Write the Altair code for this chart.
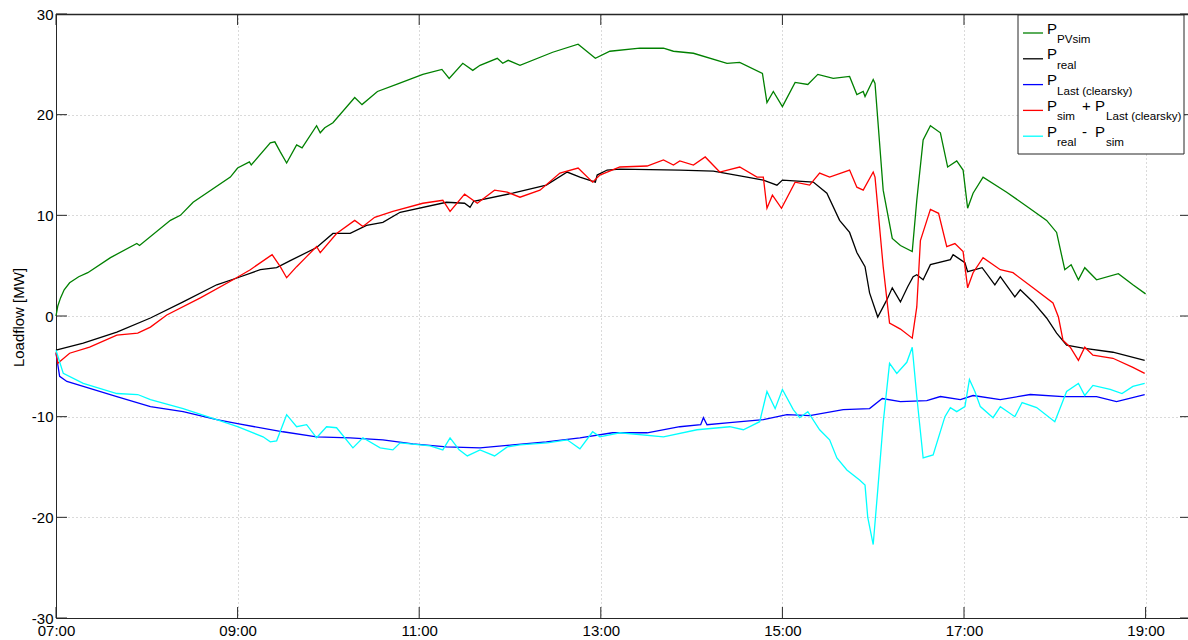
import altair as alt
import pandas as pd

# ---------------- data (hours of day, MW) ----------------
TICK_HOURS = [7, 9, 11, 13, 15, 17, 19]
Y_TICKS = [-30, -20, -10, 0, 10, 20, 30]

green_t = [7.00, 7.02, 7.05, 7.09, 7.15, 7.25, 7.35, 7.60, 7.89, 7.92, 8.26, 8.37, 8.51, 8.92, 9.00, 9.13, 9.15,
           9.36, 9.41, 9.47, 9.54, 9.65, 9.71, 9.87, 9.91, 9.96, 10.05, 10.29, 10.37, 10.54,
           10.75, 11.04, 11.25, 11.33, 11.48, 11.59, 11.67, 11.86, 11.92, 11.98, 12.11, 12.47,
           12.75, 12.94, 13.10, 13.43, 13.69, 13.80, 14.02, 14.39, 14.53, 14.78, 14.83, 14.90,
           15.00, 15.14, 15.28, 15.39, 15.56, 15.74, 15.82, 15.89, 15.91, 16.00, 16.02, 16.11,
           16.21, 16.30, 16.43, 16.48, 16.55, 16.63, 16.74, 16.82, 16.92, 16.99, 17.04, 17.10,
           17.21, 17.47, 17.69, 17.91, 18.02, 18.11, 18.18, 18.26, 18.33, 18.46, 18.70, 18.86,
           19.00]
green_v = [0.0, 1.0, 1.8, 2.6, 3.3, 3.9, 4.3, 5.8, 7.2, 7.0, 9.5, 10.0, 11.3, 13.8, 14.7, 15.3, 15.0,
           17.2, 17.3, 16.3, 15.2, 17.0, 16.7, 18.9, 18.2, 18.7, 19.2, 21.7, 21.0, 22.3,
           23.0, 24.0, 24.5, 23.6, 25.1, 24.4, 24.9, 25.6, 25.1, 25.4, 24.9, 26.2,
           27.0, 25.6, 26.3, 26.6, 26.6, 26.3, 26.1, 25.1, 25.2, 24.1, 21.2, 22.3,
           20.8, 23.2, 23.0, 24.0, 23.6, 23.8, 22.0, 22.3, 21.8, 23.5, 23.1, 12.5,
           7.7, 7.0, 6.4, 11.5, 17.5, 18.9, 18.2, 14.8, 15.4, 14.5, 10.7, 12.2,
           13.8, 12.3, 10.9, 9.5, 8.3, 4.6, 5.1, 3.6, 4.8, 3.6, 4.2, 3.1,
           2.2]

black_t = [7.00, 7.30, 7.67, 8.04, 8.40, 8.77, 9.00, 9.25, 9.43, 9.58, 9.87, 10.05, 10.24,
           10.42, 10.60, 10.79, 11.30, 11.50, 11.56, 11.60, 12.03, 12.40, 12.63, 12.77, 12.94,
           12.96, 13.07, 13.21, 13.87, 14.24, 14.61, 14.79, 14.94, 15.00, 15.34, 15.49, 15.63,
           15.74, 15.82, 15.91, 15.96, 16.05, 16.15, 16.21, 16.30, 16.38, 16.44, 16.48, 16.55,
           16.63, 16.85, 16.88, 17.01, 17.04, 17.20, 17.34, 17.40, 17.56, 17.62, 17.76, 17.91,
           18.02, 18.13, 18.31, 18.64, 18.99]
black_v = [-3.4, -2.7, -1.6, -0.2, 1.4, 3.1, 3.8, 4.6, 4.8, 5.5, 6.8, 8.2, 8.2,
           9.0, 9.3, 10.3, 11.3, 11.2, 10.8, 11.4, 12.2, 13.0, 14.3, 13.8, 13.3,
           14.0, 14.5, 14.6, 14.5, 14.4, 13.8, 13.5, 13.0, 13.5, 13.3, 12.2, 9.5,
           8.3, 6.3, 4.9, 2.3, -0.1, 1.6, 2.8, 1.4, 2.9, 3.9, 4.1, 3.6,
           5.1, 5.6, 6.1, 5.3, 4.4, 4.8, 3.1, 3.9, 1.9, 2.6, 1.4, -0.2,
           -1.7, -2.9, -3.2, -3.6, -4.4]

blue_t = [7.00, 7.04, 7.12, 7.30, 7.67, 8.04, 8.40, 8.77, 9.00, 9.50, 9.87, 10.24, 10.60,
          10.93, 11.30, 11.67, 12.03, 12.40, 12.77, 13.13, 13.51, 13.87, 14.10, 14.13, 14.17,
          14.42, 14.79, 15.05, 15.30, 15.67, 15.96, 16.10, 16.30, 16.59, 16.74, 16.96, 17.10,
          17.40, 17.73, 18.09, 18.46, 18.68, 18.99]
blue_v = [-3.7, -6.0, -6.5, -7.0, -8.0, -9.0, -9.5, -10.3, -10.7, -11.5, -12.0, -12.1, -12.3,
          -12.7, -13.0, -13.1, -12.8, -12.5, -12.1, -11.6, -11.6, -11.0, -10.8, -10.1, -10.8,
          -10.6, -10.3, -9.8, -9.9, -9.3, -9.2, -8.2, -8.5, -8.4, -8.0, -8.3, -7.9,
          -8.3, -7.8, -8.0, -8.0, -8.5, -7.8]

red_t = [7.00, 7.02, 7.15, 7.37, 7.67, 7.90, 8.04, 8.22, 8.59, 8.95, 9.14, 9.38, 9.47, 9.54,
         9.65, 9.76, 9.87, 9.91, 10.09, 10.29, 10.38, 10.51, 10.71, 11.04, 11.26, 11.34, 11.50,
         11.64, 11.83, 11.97, 12.11, 12.33, 12.55, 12.75, 12.91, 12.99, 13.21, 13.51, 13.69,
         13.80, 13.87, 14.02, 14.15, 14.31, 14.53, 14.72, 14.79, 14.83, 14.89, 14.99, 15.14,
         15.30, 15.41, 15.52, 15.74, 15.82, 15.89, 16.00, 16.02, 16.11, 16.18, 16.30, 16.43,
         16.48, 16.52, 16.63, 16.72, 16.81, 16.90, 16.99, 17.04, 17.10, 17.21, 17.40, 17.54,
         17.76, 17.98, 18.04, 18.09, 18.17, 18.26, 18.33, 18.42, 18.64, 18.86, 18.99]
red_v = [-3.6, -4.7, -3.7, -3.1, -1.9, -1.7, -1.1, 0.1, 1.8, 3.6, 4.6, 6.1, 4.9, 3.8,
         4.9, 5.9, 6.9, 6.3, 8.2, 9.5, 8.9, 9.8, 10.4, 11.2, 11.5, 10.4, 12.1,
         11.2, 12.5, 12.3, 11.8, 12.5, 14.2, 14.7, 13.3, 14.0, 14.8, 14.9, 15.5,
         15.0, 15.4, 15.0, 15.8, 14.3, 14.8, 13.8, 13.8, 10.7, 12.0, 10.7, 13.3,
         13.0, 14.2, 13.8, 14.5, 12.8, 12.5, 14.3, 13.8, 4.9, -0.7, -1.3, -2.2,
         0.9, 7.5, 10.6, 10.2, 6.9, 7.2, 6.4, 2.8, 4.3, 5.8, 4.6, 4.3,
         2.8, 1.3, -0.1, -2.4, -3.1, -4.4, -3.1, -3.9, -4.2, -5.1, -5.7]

cyan_t = [7.00, 7.08, 7.30, 7.67, 7.90, 8.04, 8.40, 8.77, 9.00, 9.28, 9.36, 9.43, 9.54, 9.65,
          9.76, 9.87, 9.98, 10.09, 10.27, 10.38, 10.57, 10.71, 10.79, 11.12, 11.26, 11.34,
          11.44, 11.53, 11.67, 11.83, 11.97, 12.11, 12.41, 12.63, 12.77, 12.91, 12.99, 13.21,
          13.69, 14.06, 14.42, 14.57, 14.75, 14.83, 14.92, 15.00, 15.12, 15.19, 15.28, 15.41,
          15.52, 15.60, 15.71, 15.85, 15.91, 15.94, 16.00, 16.05, 16.11, 16.18, 16.26, 16.37,
          16.43, 16.48, 16.55, 16.66, 16.79, 16.85, 16.92, 17.01, 17.06, 17.12, 17.18, 17.32,
          17.40, 17.56, 17.64, 17.80, 18.00, 18.13, 18.26, 18.33, 18.42, 18.61, 18.74, 18.86,
          18.99]
cyan_v = [-3.4, -5.7, -6.7, -7.7, -7.8, -8.3, -9.2, -10.3, -11.0, -12.0, -12.5, -12.4, -9.8, -11.0,
          -10.8, -12.1, -11.0, -11.1, -13.1, -12.1, -13.1, -13.3, -12.6, -12.9, -13.3, -12.1,
          -13.3, -13.9, -13.3, -13.9, -13.0, -12.8, -12.6, -12.3, -13.2, -11.5, -12.0, -11.6,
          -12.0, -11.3, -11.0, -11.3, -10.5, -7.5, -9.2, -7.3, -9.3, -10.1, -9.5, -11.3,
          -12.3, -14.1, -15.3, -16.3, -16.8, -20.0, -22.7, -17.3, -10.6, -4.7, -5.7, -4.6,
          -3.1, -8.0, -14.1, -13.8, -10.0, -9.1, -9.5, -9.0, -6.3, -7.5, -9.0, -10.1,
          -9.0, -10.0, -8.6, -9.1, -10.5, -7.5, -6.7, -7.9, -6.9, -7.3, -7.7, -7.0,
          -6.7]

SERIES = [
    (green_t, green_v, "#008000"),
    (black_t, black_v, "#000000"),
    (blue_t, blue_v, "#0000ff"),
    (red_t, red_v, "#ff0000"),
    (cyan_t, cyan_v, "#00ffff"),
]

# legend pieces: (row, x, text, is_subscript)
LEGEND_PIECES = [
    (0, 1047, "P", False), (0, 1057, "PVsim", True),
    (1, 1047, "P", False), (1, 1057, "real", True),
    (2, 1047, "P", False), (2, 1057, "Last (clearsky)", True),
    (3, 1047, "P", False), (3, 1057, "sim", True), (3, 1082, "+", False),
    (3, 1095, "P", False), (3, 1106, "Last (clearsky)", True),
    (4, 1047, "P", False), (4, 1057, "real", True), (4, 1082, "-", False),
    (4, 1095, "P", False), (4, 1106, "sim", True),
]

# ---------------- layout ----------------
LEFT, TOP = 56, 14
W, H = 1188 - LEFT, 604
PX_PER_HOUR = 90.8
FONT = "Liberation Sans"
AXIS_COLOR = "#262626"

xscale = alt.Scale(domain=[7, 7 + W / PX_PER_HOUR], nice=False, zero=False)
yscale = alt.Scale(domain=[-30, 30], nice=False, zero=False)

x_axis = alt.Axis(
    values=TICK_HOURS,
    labelExpr="(datum.value < 10 ? '0' : '') + datum.value + ':00'",
    grid=True, gridDash=[1, 3], gridColor="#b4b4b4", gridWidth=1,
    tickSize=0, domainColor=AXIS_COLOR, domainWidth=1,
    labelFont=FONT, labelFontSize=15, labelColor="#000000", labelPadding=5,
    labelFlush=False, labelOverlap=False, labelBound=False, title=None,
)
y_axis = alt.Axis(
    values=Y_TICKS,
    labelExpr="'' + datum.value",
    grid=True, gridDash=[1, 3], gridColor="#b4b4b4", gridWidth=1,
    tickSize=0, domainColor=AXIS_COLOR, domainWidth=1,
    labelFont=FONT, labelFontSize=15, labelColor="#000000", labelPadding=3,
    labelFlush=False, labelOverlap=False, labelBound=False,
    title="Loadflow [MW]", titleFont=FONT, titleFontSize=15, titleFontWeight="normal",
    titleColor="#000000", titleX=-30, titleY=H / 2 + 1, titleAngle=270,
    titleBaseline="bottom", titleAlign="center",
)

X = lambda: alt.X("t:Q", scale=xscale, axis=x_axis)
Y = lambda: alt.Y("v:Q", scale=yscale, axis=y_axis)

layers = []
for ts, vs, col in SERIES:
    df = pd.DataFrame({"t": ts, "v": vs})
    layers.append(
        alt.Chart(df).mark_line(color=col, strokeWidth=1.3).encode(x=X(), y=Y())
    )

# inward ticks on all four sides (MATLAB box style)
xt = pd.DataFrame({"t": TICK_HOURS})
yt = pd.DataFrame({"v": Y_TICKS})
TL = 11
layers.append(alt.Chart(xt).mark_rule(color=AXIS_COLOR).encode(
    x=X(), y=alt.value(H), y2=alt.value(H - TL)))
layers.append(alt.Chart(xt).mark_rule(color=AXIS_COLOR).encode(
    x=X(), y=alt.value(0), y2=alt.value(TL)))
layers.append(alt.Chart(yt).mark_rule(color=AXIS_COLOR).encode(
    y=Y(), x=alt.value(0), x2=alt.value(TL)))
layers.append(alt.Chart(yt).mark_rule(color=AXIS_COLOR).encode(
    y=Y(), x=alt.value(W - 8), x2=alt.value(W)))
one = pd.DataFrame({"a": [0]})
layers.append(alt.Chart(one).mark_rule(color=AXIS_COLOR, strokeWidth=1.5).encode(
    x=alt.value(0), x2=alt.value(W), y=alt.value(0.5)))

# legend box
layers.append(alt.Chart(one).mark_rect(fill="white", stroke=AXIS_COLOR, strokeWidth=1).encode(
    x=alt.value(1018 - LEFT), x2=alt.value(1184 - LEFT),
    y=alt.value(1), y2=alt.value(154 - TOP)))

ROW_Y = [33 + 25.8 * r - TOP for r in range(5)]
for r, (_, _, col) in enumerate(SERIES):
    layers.append(alt.Chart(one).mark_rule(color=col, strokeWidth=1.3).encode(
        x=alt.value(1023 - LEFT), x2=alt.value(1043 - LEFT), y=alt.value(ROW_Y[r])))

for r, xabs, txt, sub in LEGEND_PIECES:
    layers.append(alt.Chart(one).mark_text(
        text=txt, align="left", baseline="alphabetic", font=FONT,
        fontSize=11.6 if sub else 15, color="#000000",
    ).encode(x=alt.value(xabs - LEFT), y=alt.value(ROW_Y[r] + (10 if sub else 0.5))))

chart = alt.layer(*layers).properties(
    width=W, height=H,
    autosize=alt.AutoSizeParams(type="none"),
    padding={"left": LEFT, "top": TOP, "right": 0, "bottom": 640 - TOP - H},
    background="white",
).configure_view(stroke=None)

chart.save("out.html", embed_options={"renderer": "svg", "actions": False})
